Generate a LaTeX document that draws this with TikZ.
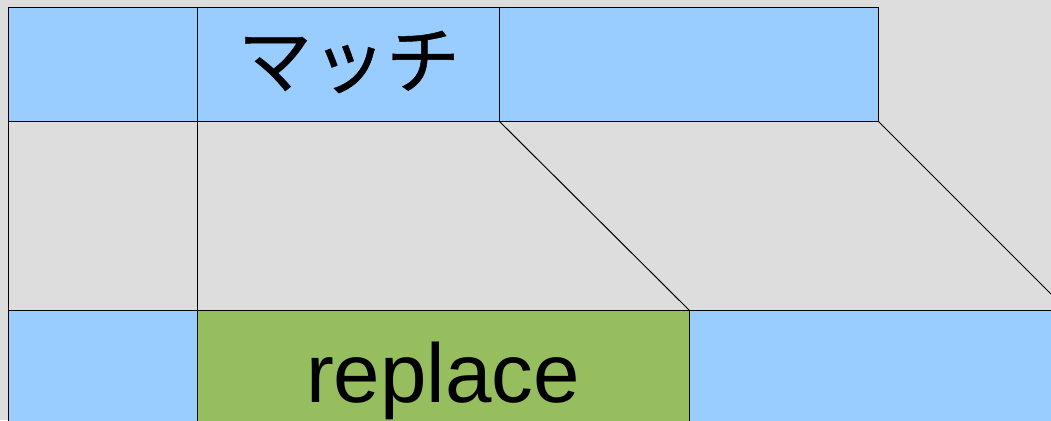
\documentclass[tikz,border=0pt]{standalone}
\usepackage{fontspec}
\setmainfont{Liberation Sans}
\newfontfamily\cjk[BoldFont={Noto Sans CJK JP},BoldFeatures={FakeBold=0.6}]{Noto Sans CJK JP}
\definecolor{bgc}{HTML}{DDDDDD}
\definecolor{cellblue}{HTML}{99CCFF}
\definecolor{cellgreen}{HTML}{96BE5E}
\begin{document}
\begin{tikzpicture}[x=1pt,y=-1pt,
  cell/.style={draw=black,line width=1pt,inner sep=0pt,outer sep=0pt,anchor=north west},
  bluecell/.style={cell,fill=cellblue},
  greencell/.style={cell,fill=cellgreen},
  link/.style={draw=black,line width=1pt}]
\useasboundingbox (0,0) rectangle (1051,420);
\fill[bgc] (0,0) rectangle (1051,420);
\clip (0,0) rectangle (1051,420);
% top row
\node[bluecell,minimum width=189pt,minimum height=113pt] (t1) at (8,8) {};
\node[bluecell,minimum width=302pt,minimum height=113pt] (t2) at (197,8) {};
\node[bluecell,minimum width=379pt,minimum height=113pt] (t3) at (499,8) {};
\node[inner sep=0pt] (tm) at (349,62) {\cjk\bfseries\fontsize{74}{80}\selectfont マッチ};
% bottom row
\node[bluecell,minimum width=189pt,minimum height=130pt] (b1) at (8,310) {};
\node[greencell,minimum width=492pt,minimum height=130pt] (b2) at (197,310) {};
\node[bluecell,minimum width=380pt,minimum height=130pt] (b3) at (689,310) {};
\node[inner sep=0pt,anchor=base] (bm) at (443,402) {\fontsize{83.5}{90}\selectfont replace};
% middle connectors
\coordinate (e1) at (1051,294);
\coordinate (e2) at (1051,310);
\draw[link] (t1.south west) -- (b1.north west);
\draw[link] (t2.south west) -- (b2.north west);
\draw[link] (t2.south east) -- (b2.north east);
\draw[link] (t3.south east) -- (e1);
\draw[link] (b1.north west) -- (e2);
\end{tikzpicture}
\end{document}
